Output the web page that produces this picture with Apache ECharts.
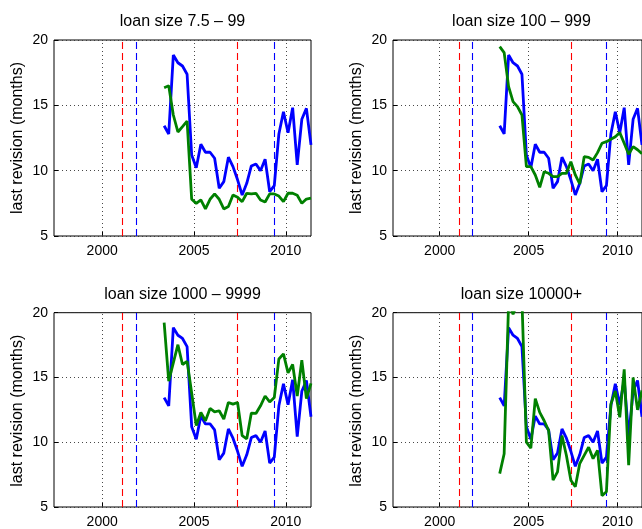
<!DOCTYPE html>
<html><head><meta charset="utf-8">
<script src="https://cdn.jsdelivr.net/npm/echarts@6/dist/echarts.min.js"></script>
<style>html,body{margin:0;padding:0;background:#fff}#c{width:642px;height:529px}</style>
</head><body><div id="c"></div>
<script>
// quarterly observation dates (decimal years)
const quarters = [2003.375, 2003.625, 2003.875, 2004.125, 2004.375, 2004.625, 2004.875,
  2005.125, 2005.375, 2005.625, 2005.875, 2006.125, 2006.375, 2006.625, 2006.875,
  2007.125, 2007.375, 2007.625, 2007.875, 2008.125, 2008.375, 2008.625, 2008.875,
  2009.125, 2009.375, 2009.625, 2009.875, 2010.125, 2010.375, 2010.625, 2010.875,
  2011.125, 2011.375];
// blue: all loans (same in every panel)
const allLoans = [13.44, 12.81, 18.85, 18.26, 18.01, 17.38, 11.2, 10.23, 12.02, 11.41, 11.41,
  10.95, 8.65, 9.16, 11.03, 10.31, 9.3, 8.14, 9.03, 10.36, 10.51, 10.0, 10.87, 8.39, 8.85,
  12.81, 14.51, 12.9, 14.82, 10.44, 13.93, 14.77, 11.97];
// green: loan size class
const size7to99 = [16.35, 16.5, 14.26, 12.96, 13.37, 13.8, 7.81, 7.5, 7.76, 7.07, 7.81, 8.22,
  7.81, 7.07, 7.25, 8.14, 7.97, 7.63, 8.27, 8.22, 8.27, 7.76, 7.6, 8.22, 8.22, 8.06, 7.63,
  8.27, 8.27, 8.12, 7.5, 7.83, 7.89];
const size100to999 = [19.49, 19.03, 16.43, 15.28, 14.9, 14.26, 10.31, 10.31, 9.67, 8.73, 9.92,
  9.8, 9.54, 9.54, 9.8, 9.8, 10.69, 9.67, 8.98, 11.07, 11.02, 10.82, 11.38, 12.1, 12.22, 12.4,
  12.6, 12.91, 12.1, 11.25, 11.84, 11.6, 11.3];
const size1000to9999 = [19.23, 14.72, 16.13, 17.53, 16.0, 16.25, 13.8, 11.28, 12.3, 11.66, 12.61,
  12.35, 12.43, 11.79, 13.07, 12.94, 13.07, 10.51, 10.26, 12.25, 12.22, 12.81, 13.57, 13.11,
  13.45, 16.43, 16.82, 15.36, 16.0, 13.57, 16.33, 13.37, 14.54];
const size10000plus = [7.58, 9.11, 20.8, 19.88, 20.8, 21.0, 10.0, 9.55, 13.37, 12.3, 11.66, 10.9,
  7.07, 7.71, 10.51, 8.98, 7.07, 6.56, 8.35, 8.98, 9.62, 8.73, 9.37, 5.88, 6.18, 12.94, 13.96,
  11.92, 15.62, 8.22, 15.0, 12.5, 14.0];
const titles = ['loan size 7.5 \u2013 99', 'loan size 100 \u2013 999', 'loan size 1000 \u2013 9999', 'loan size 10000+'];
const xTicks = [2000, 2005, 2010];
const yTicks = [5, 10, 15, 20];
const redLines = [2001.12, 2007.38];
const blueLines = [2001.84, 2009.38];
const yLabel = 'last revision (months)';

const greens = [size7to99, size100to999, size1000to9999, size10000plus];
const FONT = '"Liberation Sans", Arial, sans-serif';
const lefts = [54, 393, 54, 393];
const tops = [40, 40, 312.7, 312.7];
const W = 257, H = 196;
const X0 = 1997.375, X1 = 2011.375;

const grids = [], xAxes = [], yAxes = [], series = [], graphics = [];
for (let i = 0; i < 4; i++) {
  grids.push({left: lefts[i], top: tops[i], width: W, height: H, show: true,
    borderColor: '#000', borderWidth: 1, backgroundColor: 'transparent'});
  xAxes.push({type: 'value', gridIndex: i, min: X0, max: X1,
    axisLine: {show: false}, splitLine: {show: false},
    axisTick: {show: true, inside: true, length: 4, customValues: xTicks, lineStyle: {color: '#000'}},
    axisLabel: {customValues: xTicks, fontSize: 14, color: '#000', margin: 8, fontFamily: FONT,
      formatter: v => String(Math.round(v))}});
  yAxes.push({type: 'value', gridIndex: i, min: yTicks[0], max: yTicks[yTicks.length - 1], interval: 5,
    axisLine: {show: false},
    splitLine: {show: true, lineStyle: {color: '#333', type: [1, 3], width: 0.9}},
    axisTick: {show: true, inside: true, length: 4, lineStyle: {color: '#000'}},
    axisLabel: {fontSize: 14, color: '#000', margin: 6, fontFamily: FONT}});
  const ml = [];
  xTicks.forEach(v => ml.push({xAxis: v, lineStyle: {color: '#333', type: [1, 3], width: 0.9}}));
  redLines.forEach(v => ml.push({xAxis: v, lineStyle: {color: '#ff0000', type: [7, 4], width: 1.1}}));
  blueLines.forEach(v => ml.push({xAxis: v, lineStyle: {color: '#0000ff', type: [7, 4], width: 1.1}}));
  series.push({type: 'line', xAxisIndex: i, yAxisIndex: i, data: [], z: 1, silent: true,
    markLine: {silent: true, symbol: ['none', 'none'], label: {show: false}, animation: false, data: ml}});
  series.push({type: 'line', xAxisIndex: i, yAxisIndex: i, z: 10, showSymbol: false, clip: true,
    lineStyle: {color: '#0000ff', width: 2.8}, itemStyle: {color: '#0000ff'},
    data: quarters.map((q, j) => [q, allLoans[j]])});
  series.push({type: 'line', xAxisIndex: i, yAxisIndex: i, z: 11, showSymbol: false, clip: true,
    lineStyle: {color: '#008000', width: 2.8}, itemStyle: {color: '#008000'},
    data: quarters.map((q, j) => [q, greens[i][j]])});
  graphics.push({type: 'text', x: lefts[i] + W / 2, y: tops[i] - 18.5,
    style: {text: titles[i], fill: '#000', font: '16px ' + FONT, textAlign: 'center', textVerticalAlign: 'middle'}});
  graphics.push({type: 'text', x: lefts[i] - 36, y: tops[i] + H / 2, rotation: Math.PI / 2,
    style: {text: yLabel, fill: '#000', font: '16px ' + FONT, textAlign: 'center', textVerticalAlign: 'middle'}});
}

const chart = echarts.init(document.getElementById('c'), null, {renderer: 'canvas'});
chart.setOption({animation: false, backgroundColor: '#fff', grid: grids, xAxis: xAxes, yAxis: yAxes,
  series: series, graphic: graphics});
</script></body></html>
